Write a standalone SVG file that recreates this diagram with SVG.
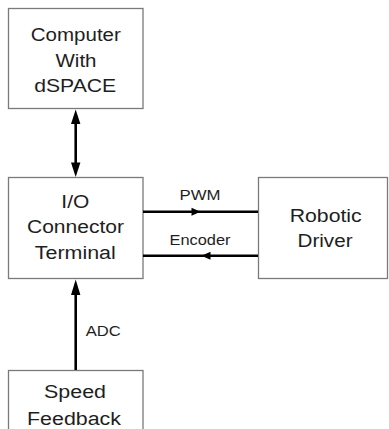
<svg xmlns="http://www.w3.org/2000/svg" width="389" height="429" viewBox="0 0 389 429">
<style>
.box{fill:#fff;stroke:#7a7a7a;stroke-width:1.3}
.t{font-family:"Liberation Sans",Arial,sans-serif;font-size:18px;fill:#1e1e1e;text-anchor:middle}
.s{font-family:"Liberation Sans",Arial,sans-serif;font-size:14px;fill:#1e1e1e;text-anchor:middle}
.ln{stroke:#000;stroke-width:2.6;fill:none}
.hd{fill:#000}
</style>
<rect width="389" height="429" fill="#fff"/>
<g id="computer">
<rect class="box" x="8.5" y="8.5" width="134.5" height="100"/>
<text class="t" x="75.8" y="41" textLength="90" lengthAdjust="spacingAndGlyphs">Computer</text>
<text class="t" x="76" y="66.5" textLength="41" lengthAdjust="spacingAndGlyphs">With</text>
<text class="t" x="75.2" y="92" textLength="82" lengthAdjust="spacingAndGlyphs">dSPACE</text>
</g>
<g id="io">
<rect class="box" x="8.5" y="177.5" width="134.5" height="101"/>
<text class="t" x="75.3" y="207.5" textLength="28" lengthAdjust="spacingAndGlyphs">I/O</text>
<text class="t" x="75.5" y="233.3" textLength="97" lengthAdjust="spacingAndGlyphs">Connector</text>
<text class="t" x="75.3" y="259" textLength="81" lengthAdjust="spacingAndGlyphs">Terminal</text>
</g>
<g id="robotic">
<rect class="box" x="258.5" y="177.5" width="129" height="101"/>
<text class="t" x="325.7" y="221.7" textLength="72" lengthAdjust="spacingAndGlyphs">Robotic</text>
<text class="t" x="325" y="246.7" textLength="55" lengthAdjust="spacingAndGlyphs">Driver</text>
</g>
<g id="speed">
<rect class="box" x="8.5" y="370.5" width="134.5" height="70"/>
<text class="t" x="75" y="398" textLength="62" lengthAdjust="spacingAndGlyphs">Speed</text>
<text class="t" x="74" y="425" textLength="94" lengthAdjust="spacingAndGlyphs">Feedback</text>
</g>
<g id="connectors">
<line class="ln" x1="75.7" y1="122" x2="75.7" y2="164"/>
<polygon class="hd" points="75.7,109.5 71,124 80.4,124"/>
<polygon class="hd" points="75.7,177 71,162.5 80.4,162.5"/>
<line class="ln" x1="75.7" y1="292" x2="75.7" y2="370"/>
<polygon class="hd" points="75.7,279.5 71,295 80.4,295"/>
<text class="s" x="103.3" y="335.7" textLength="35" lengthAdjust="spacingAndGlyphs">ADC</text>
<line class="ln" x1="143" y1="211.7" x2="258" y2="211.7"/>
<polygon class="hd" points="200.5,211.7 191.5,207.7 191.5,215.7"/>
<text class="s" x="200" y="200" textLength="41" lengthAdjust="spacingAndGlyphs">PWM</text>
<line class="ln" x1="143" y1="255.7" x2="258" y2="255.7"/>
<polygon class="hd" points="201.5,255.7 210.5,251.7 210.5,259.7"/>
<text class="s" x="200" y="245" textLength="61" lengthAdjust="spacingAndGlyphs">Encoder</text>
</g>
</svg>
